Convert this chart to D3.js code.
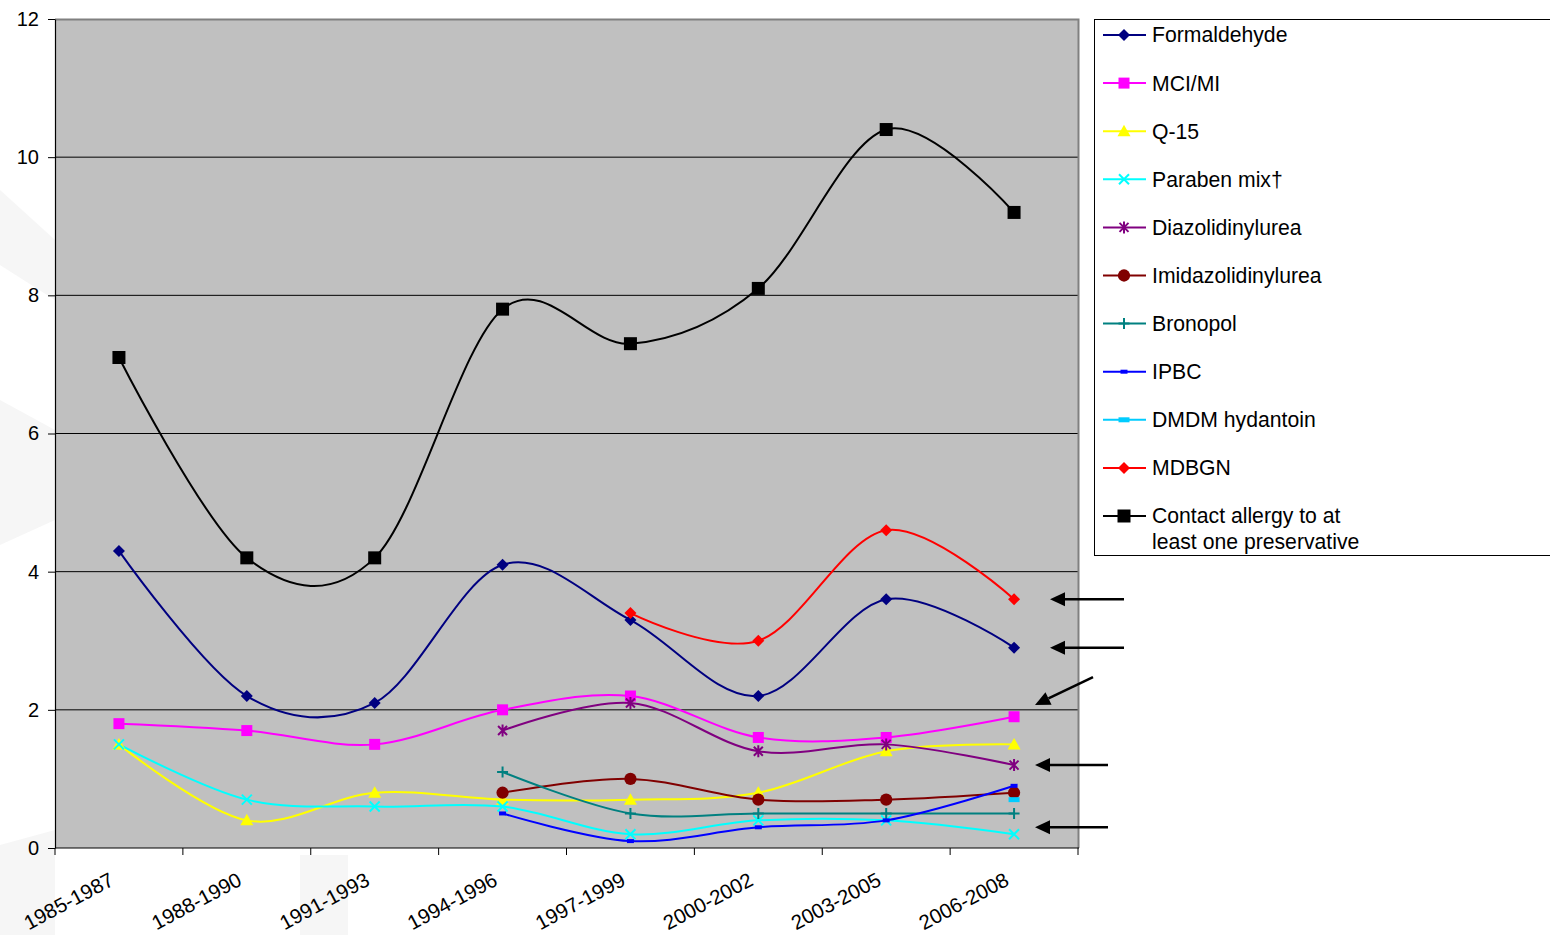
<!DOCTYPE html>
<html>
<head>
<meta charset="utf-8">
<script src="https://cdn.jsdelivr.net/npm/d3@7"></script>
<style>
  body { margin: 0; background: #fff; }
  svg { display: block; font-family: "Liberation Sans", Arial, sans-serif; }
</style>
</head>
<body>
<figure id="chart" style="margin:0"></figure>
<script>
// categories (3-year periods)
const periods = ["1985-1987", "1988-1990", "1991-1993", "1994-1996", "1997-1999", "2000-2002", "2003-2005", "2006-2008"];
const yTicks = [0, 2, 4, 6, 8, 10, 12];

// prevalence values per period, null = not tested
const formaldehyde   = [4.3, 2.2, 2.1, 4.1, 3.3, 2.2, 3.6, 2.9];
const mciMi          = [1.8, 1.7, 1.5, 2.0, 2.2, 1.6, 1.6, 1.9];
const q15            = [1.5, 0.4, 0.8, 0.7, 0.7, 0.8, 1.4, 1.5];
const parabenMix     = [1.5, 0.7, 0.6, 0.6, 0.2, 0.4, 0.4, 0.2];
const diazolidinyl   = [null, null, null, 1.7, 2.1, 1.4, 1.5, 1.2];
const imidazolidinyl = [null, null, null, 0.8, 1.0, 0.7, 0.7, 0.8];
const bronopol       = [null, null, null, 1.1, 0.5, 0.5, 0.5, 0.5];
const ipbc           = [null, null, null, 0.5, 0.1, 0.3, 0.4, 0.9];
const dmdm           = [null, null, null, null, null, null, null, 0.7];
const mdbgn          = [null, null, null, null, 3.4, 3.0, 4.6, 3.6];
const anyPreserv     = [7.1, 4.2, 4.2, 7.8, 7.3, 8.1, 10.4, 9.2];

// arrows on the right point at these values
const arrowValues = [3.6, 2.9, 2.07, 1.2, 0.3];

const series = [
  { name: "Formaldehyde", values: formaldehyde, color: "#000080", marker: "diamond" },
  { name: "MCI/MI", values: mciMi, color: "#FF00FF", marker: "square" },
  { name: "Q-15", values: q15, color: "#FFFF00", marker: "triangle" },
  { name: "Paraben mix\u2020", values: parabenMix, color: "#00FFFF", marker: "x" },
  { name: "Diazolidinylurea", values: diazolidinyl, color: "#800080", marker: "star" },
  { name: "Imidazolidinylurea", values: imidazolidinyl, color: "#800000", marker: "circle" },
  { name: "Bronopol", values: bronopol, color: "#008080", marker: "plus" },
  { name: "IPBC", values: ipbc, color: "#0000FF", marker: "dash" },
  { name: "DMDM hydantoin", values: dmdm, color: "#00CCFF", marker: "bar" },
  { name: "MDBGN", values: mdbgn, color: "#FF0000", marker: "diamond" },
  { name: ["Contact allergy to at", "least one preservative"], values: anyPreserv, color: "#000000", marker: "bigsquare" }
];

const W = 1550, H = 935;
const plot = { left: 55, top: 19, right: 1078, bottom: 848 };

const svg = d3.select("#chart").append("svg")
  .attr("width", W).attr("height", H);

// faint watermark shapes in the background
const wm = svg.append("g").attr("fill", "#f6f6f6");
wm.append("path").attr("d", "M0,400 L55,430 L55,520 L0,545 Z");
wm.append("path").attr("d", "M0,845 L55,830 L55,935 L0,935 Z");
wm.append("path").attr("d", "M0,190 L55,240 L55,300 L0,265 Z");
wm.append("rect").attr("x", 300).attr("y", 855).attr("width", 48).attr("height", 80);

const x = d3.scaleBand()
  .domain(periods)
  .range([plot.left, plot.right]);

const y = d3.scaleLinear()
  .domain([0, 12])
  .range([plot.bottom, plot.top]);

const cx = d => x(d) + x.bandwidth() / 2;

// plot area
svg.append("rect")
  .attr("x", plot.left).attr("y", plot.top)
  .attr("width", plot.right - plot.left).attr("height", plot.bottom - plot.top)
  .attr("fill", "#C0C0C0");

// gridlines
svg.append("g")
  .selectAll("line")
  .data(yTicks.filter(t => t > 0 && t < 12))
  .enter().append("line")
  .attr("x1", plot.left).attr("x2", plot.right)
  .attr("y1", d => y(d)).attr("y2", d => y(d))
  .attr("stroke", "#000").attr("stroke-width", 1);

// plot border (top / right grey)
svg.append("path")
  .attr("d", `M${plot.left},${plot.top + 0.5} H${plot.right + 0.5} V${plot.bottom}`)
  .attr("fill", "none").attr("stroke", "#808080").attr("stroke-width", 2);

// y axis
const yAxis = svg.append("g")
  .attr("transform", `translate(${plot.left},0)`)
  .call(d3.axisLeft(y).tickValues(yTicks).tickSize(7).tickSizeOuter(0).tickPadding(9));
yAxis.select(".domain").attr("stroke", "#000").attr("stroke-width", 1.2);
yAxis.selectAll("text").attr("font-size", "20px").attr("fill", "#000")
  .attr("font-family", "Liberation Sans, Arial, sans-serif");

// x axis with ticks between categories
const xAxis = svg.append("g")
  .attr("transform", `translate(0,${plot.bottom})`);
xAxis.append("line")
  .attr("x1", plot.left).attr("x2", plot.right + 1)
  .attr("stroke", "#000").attr("stroke-width", 1.2);
xAxis.selectAll(".tk")
  .data(periods.concat(["end"]))
  .enter().append("line")
  .attr("x1", (d, i) => i < periods.length ? x(d) : plot.right)
  .attr("x2", (d, i) => i < periods.length ? x(d) : plot.right)
  .attr("y1", 0).attr("y2", 7)
  .attr("stroke", "#000");
xAxis.selectAll("text")
  .data(periods)
  .enter().append("text")
  .attr("transform", d => `translate(${cx(d) - 7},${30}) rotate(-28)`)
  .attr("text-anchor", "end")
  .attr("font-size", "20.5px")
  .attr("dy", "0.35em")
  .text(d => d);

// lines
const line = d3.line()
  .defined(d => d.v != null)
  .x(d => cx(d.p))
  .y(d => y(d.v))
  .curve(d3.curveCardinal.tension(0));

function markerPath(type) {
  switch (type) {
    case "diamond": return "M0,-6L6,0L0,6L-6,0Z";
    case "square": return "M-5.5,-5.5H5.5V5.5H-5.5Z";
    case "bigsquare": return "M-6.5,-6.5H6.5V6.5H-6.5Z";
    case "triangle": return "M0,-6.5L6.5,5L-6.5,5Z";
    case "circle": return d3.symbol(d3.symbolCircle, 118)();
    case "x": return "M-5,-5L5,5M-5,5L5,-5";
    case "star": return "M-4.5,-4.5L4.5,4.5M-4.5,4.5L4.5,-4.5M0,-6V6";
    case "plus": return "M-5.5,0H5.5M0,-5.5V5.5";
    case "dash": return "M-3.5,-2H3.5V2H-3.5Z";
    case "bar": return "M-5.5,-2.5H5.5V2.5H-5.5Z";
  }
}
const stroked = t => t === "x" || t === "star" || t === "plus";

function drawMarker(g, s) {
  const p = g.append("path").attr("d", markerPath(s.marker));
  if (stroked(s.marker)) {
    p.attr("fill", "none").attr("stroke", s.color).attr("stroke-width", 2);
  } else {
    p.attr("fill", s.color);
  }
}

series.forEach(s => {
  const pts = periods.map((p, i) => ({ p, v: s.values[i] }));
  svg.append("path")
    .datum(pts)
    .attr("d", line)
    .attr("fill", "none")
    .attr("stroke", s.color)
    .attr("stroke-width", 2);
});

series.forEach(s => {
  const pts = periods.map((p, i) => ({ p, v: s.values[i] })).filter(d => d.v != null);
  svg.append("g").selectAll("g")
    .data(pts)
    .enter().append("g")
    .attr("transform", d => `translate(${cx(d.p)},${y(d.v)})`)
    .each(function () { drawMarker(d3.select(this), s); });
});

// legend
const legend = svg.append("g");
legend.append("rect")
  .attr("x", 1094.5).attr("y", 19.5)
  .attr("width", 500).attr("height", 536)
  .attr("fill", "#fff").attr("stroke", "#000").attr("stroke-width", 1);

const legendY = d3.scaleLinear().domain([0, series.length - 1]).range([35, 516]);
series.forEach((s, i) => {
  const g = legend.append("g").attr("transform", `translate(0,${legendY(i)})`);
  g.append("line").attr("x1", 1103).attr("x2", 1146)
    .attr("stroke", s.color).attr("stroke-width", 2);
  const m = g.append("g").attr("transform", "translate(1124,0)");
  drawMarker(m, s);
  const names = Array.isArray(s.name) ? s.name : [s.name];
  const t = g.append("text").attr("x", 1152).attr("y", 0)
    .attr("font-size", "21.2px").attr("fill", "#000");
  names.forEach((n, j) => {
    t.append("tspan").attr("x", 1152).attr("dy", j === 0 ? "0.35em" : "1.2em").text(n);
  });
});

// arrows
const arrows = arrowValues.map((v, i) => {
  if (i < 2) return { x1: 1124, y1: y(v), x2: 1050, y2: y(v) };
  if (i === 2) return { x1: 1093, y1: y(v + 0.405), x2: 1035, y2: y(v) };
  return { x1: 1108, y1: y(v), x2: 1035, y2: y(v) };
});
const ag = svg.append("g");
arrows.forEach(d => {
  const a = Math.atan2(d.y1 - d.y2, d.x1 - d.x2);
  const L = 15, hw = 7;
  const bx = d.x2 + L * Math.cos(a), by = d.y2 + L * Math.sin(a);
  const nx = -Math.sin(a) * hw, ny = Math.cos(a) * hw;
  ag.append("line")
    .attr("x1", d.x1).attr("y1", d.y1).attr("x2", bx).attr("y2", by)
    .attr("stroke", "#000").attr("stroke-width", 2.5);
  ag.append("path")
    .attr("d", `M${d.x2},${d.y2}L${bx + nx},${by + ny}L${bx - nx},${by - ny}Z`)
    .attr("fill", "#000");
});
</script>
</body>
</html>
